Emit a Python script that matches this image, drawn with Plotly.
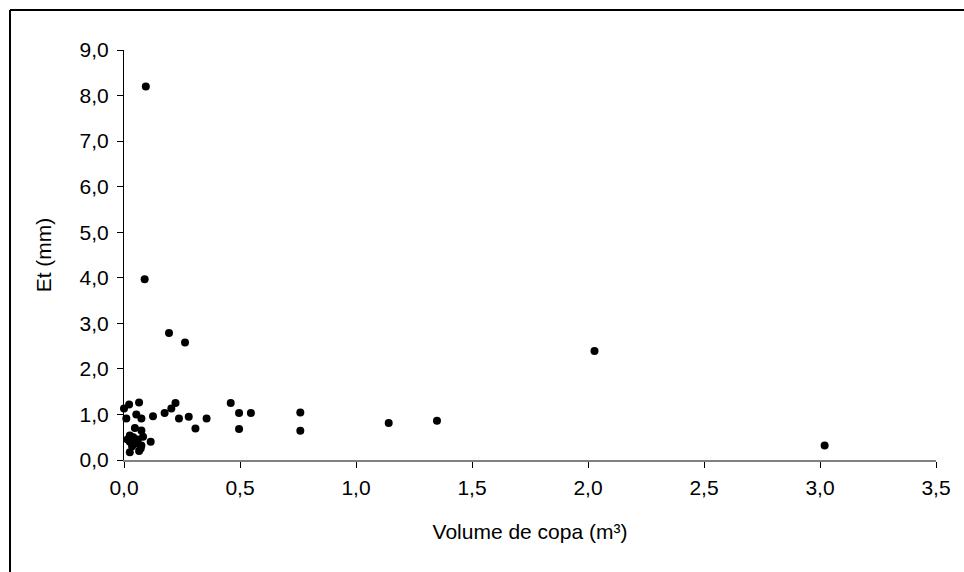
import plotly.graph_objects as go

volume = [0.094, 0.089, 0.194, 0.263, 2.028, 3.02, 1.349, 1.141, 0.76, 0.76,
          0.0, 0.022, 0.065, 0.010, 0.053, 0.075, 0.125, 0.175, 0.204, 0.222,
          0.237, 0.279, 0.308, 0.356, 0.46, 0.496, 0.547, 0.496,
          0.047, 0.075, 0.025, 0.040, 0.082, 0.025, 0.053, 0.075, 0.115,
          0.025, 0.072, 0.065, 0.015, 0.060, 0.035]
et = [8.20, 3.97, 2.79, 2.58, 2.39, 0.32, 0.86, 0.81, 1.04, 0.64,
      1.13, 1.22, 1.26, 0.91, 1.00, 0.91, 0.96, 1.03, 1.13, 1.25,
      0.91, 0.95, 0.69, 0.91, 1.25, 1.03, 1.03, 0.68,
      0.70, 0.65, 0.54, 0.50, 0.51, 0.40, 0.36, 0.32, 0.40,
      0.17, 0.25, 0.20, 0.45, 0.45, 0.30]

x_ticks = [0, 0.5, 1.0, 1.5, 2.0, 2.5, 3.0, 3.5]
x_labels = ["0,0", "0,5", "1,0", "1,5", "2,0", "2,5", "3,0", "3,5"]
y_ticks = list(range(0, 10))
y_labels = [f"{v},0" for v in y_ticks]

fig = go.Figure()
fig.add_trace(go.Scatter(
    x=volume, y=et, mode="markers",
    marker=dict(color="black", size=8, symbol="circle"),
    showlegend=False, cliponaxis=False,
))

font = dict(family="Liberation Sans, Arial, sans-serif", size=21, color="black")

fig.update_layout(
    width=964, height=572,
    margin=dict(l=124, r=28, t=50, b=112),
    paper_bgcolor="white", plot_bgcolor="white",
    font=font,
    xaxis=dict(
        range=[0, 3.5], tickvals=x_ticks, ticktext=x_labels,
        showgrid=False, zeroline=False, showline=True,
        linecolor="#808080", linewidth=1.5,
        ticks="outside", ticklen=6, tickcolor="black", tickwidth=1,
        ticklabelstandoff=2,
        title=dict(text="Volume de copa (m³)", font=font, standoff=26),
        tickfont=font,
    ),
    yaxis=dict(
        range=[0, 9], tickvals=y_ticks, ticktext=y_labels,
        showgrid=False, zeroline=False, showline=True,
        linecolor="black", linewidth=1,
        ticks="outside", ticklen=6, tickcolor="black", tickwidth=1,
        ticklabelstandoff=4,
        title=dict(text="Et (mm)", font=font, standoff=22),
        tickfont=font,
    ),
    shapes=[
        dict(type="line", xref="paper", yref="paper",
             x0=(10 - 124) / 812, x1=1.2, y0=1 + 40 / 410, y1=1 + 40 / 410,
             line=dict(color="black", width=2)),
        dict(type="line", xref="paper", yref="paper",
             x0=(10 - 124) / 812, x1=(10 - 124) / 812, y0=1 + 40 / 410, y1=-0.5,
             line=dict(color="black", width=2)),
    ],
)

fig.write_html("out.html")
